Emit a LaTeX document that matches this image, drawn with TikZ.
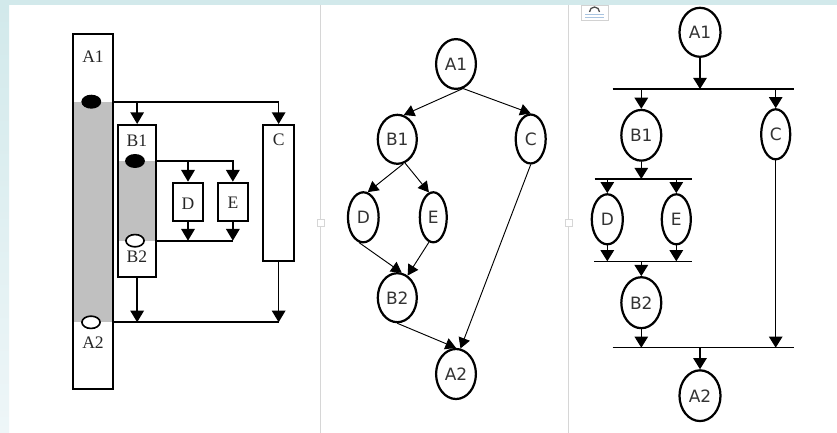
\documentclass[tikz,border=0pt]{standalone}
\usepackage{fontspec}
\setmainfont{Liberation Serif}
\newfontfamily\djv{DejaVu Sans}
\usetikzlibrary{arrows.meta,shapes.geometric,fit}
\definecolor{bgcyan}{HTML}{D2E9EB}
\definecolor{bgpale}{HTML}{EEF6F8}
\definecolor{sepgray}{HTML}{D6D6D6}
\definecolor{boxgray}{HTML}{C0C0C0}
\definecolor{iconblue}{HTML}{A9C4E0}
\begin{document}
\begin{tikzpicture}[x=0.03cm,y=-0.03cm,
  lbox/.style={draw,line width=1.7pt,inner sep=0pt},
  lline/.style={line width=1.4pt},
  larr/.style={lline,-{Triangle[width=11.5pt,length=10pt]}},
  ltext/.style={font=\fontsize{15}{17}\selectfont,text=black!85},
  dotb/.style={ellipse,draw,line width=1.4pt,fill=black,minimum width=15.5pt,minimum height=10.5pt,inner sep=0pt},
  dotw/.style={dotb,fill=white},
  gnode/.style={ellipse,draw,line width=1.9pt,inner sep=0pt,font=\djv\fontsize{14.5}{16}\selectfont,text=black!80},
  marr/.style={line width=0.8pt,-{Triangle[width=10pt,length=9pt]}},
  rline/.style={line width=1.2pt},
  rarr/.style={rline,-{Triangle[width=11.5pt,length=9.5pt]}},
]
% background
\useasboundingbox (0,0) rectangle (837,433);
\fill[white] (0,0) rectangle (837,433);
\fill[bgcyan] (0,0) rectangle (837,5);
\shade[top color=bgcyan,bottom color=bgpale] (0,5) rectangle (9,433);
\draw[sepgray,line width=0.8pt] (320.5,5) -- (320.5,433);
\draw[sepgray,line width=0.8pt] (568.5,5) -- (568.5,433);
\draw[sepgray,fill=white,line width=0.6pt] (317,219) rectangle (324.5,226);
\draw[sepgray,fill=white,line width=0.6pt] (565,219) rectangle (572.5,226);
% small icon
\draw[gray!35,fill=white,line width=0.5pt] (581,5) rectangle (608,20);
\draw[gray!60!black,line width=1.1pt] (589.5,12) arc[start angle=180,end angle=360,radius=5];
\draw[iconblue,line width=0.7pt] (585,14.5) -- (604,14.5);
\draw[iconblue,line width=0.7pt] (585,17) -- (604,17);

% ---------------- left panel ----------------
\fill[boxgray] (73,101.7) rectangle (113,322.3);
\node[lbox,fit={(73,34) (113,389)}] (LA) {};
\node[ltext] at (93,57) {A1};
\node[ltext] at (93,343) {A2};
\fill[boxgray] (118.3,161) rectangle (156,240.7);
\node[lbox,fit={(118.3,125) (156,277.3)}] (LB) {};
\node[ltext] at (137,141) {B1};
\node[ltext] at (137,257) {B2};
\node[lbox,fit={(173,182.7) (203,220.7)}] (LD) {};
\node[ltext] at (188,204) {D};
\node[lbox,fit={(218,182.7) (247.7,220.7)}] (LE) {};
\node[ltext] at (233,203) {E};
\node[lbox,fit={(263.3,125) (294,261.3)}] (LC) {};
\node[ltext] at (278.7,140) {C};

\coordinate (j1) at (91.3,101.7);
\coordinate (j2) at (135,161);
\coordinate (j3) at (135,240.7);
\coordinate (j4) at (91,322.3);

\draw[larr] (LA.east |- j1) -| (LC.north);
\draw[larr] (LB.north |- j1) -- (LB.north);
\draw[larr] (LB.east |- j2) -| (LE.north);
\draw[larr] (LD.north |- j2) -- (LD.north);
\draw[lline] (LB.east |- j3) -- (LE.south |- j3);
\draw[larr] (LD.south) -- (LD.south |- j3);
\draw[larr] (LE.south) -- (LE.south |- j3);
\draw[lline] (LA.east |- j4) -- (LC.south |- j4);
\draw[larr] (LB.south) -- (LB.south |- j4);
\draw[larr] (LC.south) -- (LC.south |- j4);

\node[dotb] (k1) at (j1) {};
\node[dotb] (k2) at (j2) {};
\node[dotw] (k3) at (j3) {};
\node[dotw] (k4) at (j4) {};

% ---------------- middle panel ----------------
\node[gnode,minimum width=34pt,minimum height=42.5pt] (mA1) at (456,64) {A1};
\node[gnode,minimum width=33.3pt,minimum height=41.8pt] (mB1) at (397.3,139.3) {B1};
\node[gnode,minimum width=25.6pt,minimum height=41.8pt] (mC) at (530.7,139) {C};
\node[gnode,minimum width=26.2pt,minimum height=42.7pt] (mD) at (363.3,217.3) {D};
\node[gnode,minimum width=23pt,minimum height=42.7pt] (mE) at (433.3,217.3) {E};
\node[gnode,minimum width=33.3pt,minimum height=41.8pt] (mB2) at (397.3,297.7) {B2};
\node[gnode,minimum width=34pt,minimum height=42.7pt] (mA2) at (456,374) {A2};

\draw[marr] (mA1.-74) -- (mB1.75);
\draw[marr] (mA1.-74) -- (mC.north);
\draw[marr] (mB1.-76) -- (mD.80);
\draw[marr] (mB1.-72) -- (mE.100);
\draw[marr] (mD.-100) -- (mB2.80);
\draw[marr] (mE.-100) -- (mB2.65);
\draw[marr] (mB2.south) -- (mA2.north);
\draw[marr] (mC.south) -- (mA2.80);

% ---------------- right panel ----------------
\node[gnode,minimum width=35pt,minimum height=41.8pt] (rA1) at (700,32.3) {A1};
\node[gnode,minimum width=34.1pt,minimum height=43.3pt] (rB1) at (641.3,135.3) {B1};
\node[gnode,minimum width=24.8pt,minimum height=42.7pt] (rC) at (775.7,134.3) {C};
\node[gnode,minimum width=26.5pt,minimum height=42.7pt] (rD) at (607.3,219.3) {D};
\node[gnode,minimum width=24.8pt,minimum height=42.7pt] (rE) at (676.3,219.3) {E};
\node[gnode,minimum width=34.1pt,minimum height=43.5pt] (rB2) at (641.3,302.7) {B2};
\node[gnode,minimum width=35pt,minimum height=43.3pt] (rA2) at (700,395.7) {A2};

\coordinate (b1l) at (612.7,89);   \coordinate (b1r) at (794,89);
\coordinate (b2l) at (594.7,179);  \coordinate (b2r) at (691.7,179);
\coordinate (b3l) at (594,261.3);  \coordinate (b3r) at (691.7,261.3);
\coordinate (b4l) at (612.7,347.7); \coordinate (b4r) at (794,347.7);
\draw[rline] (b1l) -- (b1r);
\draw[rline] (b2l) -- (b2r);
\draw[rline] (b3l) -- (b3r);
\draw[rline] (b4l) -- (b4r);

\draw[rarr] (rA1.south) -- (rA1.south |- b1l);
\draw[rarr] (rB1.north |- b1l) -- (rB1.north);
\draw[rarr] (rC.north |- b1l) -- (rC.north);
\draw[rarr] (rB1.south) -- (rB1.south |- b2l);
\draw[rarr] (rD.north |- b2l) -- (rD.north);
\draw[rarr] (rE.north |- b2l) -- (rE.north);
\draw[rarr] (rD.south) -- (rD.south |- b3l);
\draw[rarr] (rE.south) -- (rE.south |- b3l);
\draw[rarr] (rB2.north |- b3l) -- (rB2.north);
\draw[rarr] (rB2.south) -- (rB2.south |- b4l);
\draw[rarr] (rC.south) -- (rC.south |- b4l);
\draw[rarr] (rA2.north |- b4l) -- (rA2.north);
\end{tikzpicture}
\end{document}
